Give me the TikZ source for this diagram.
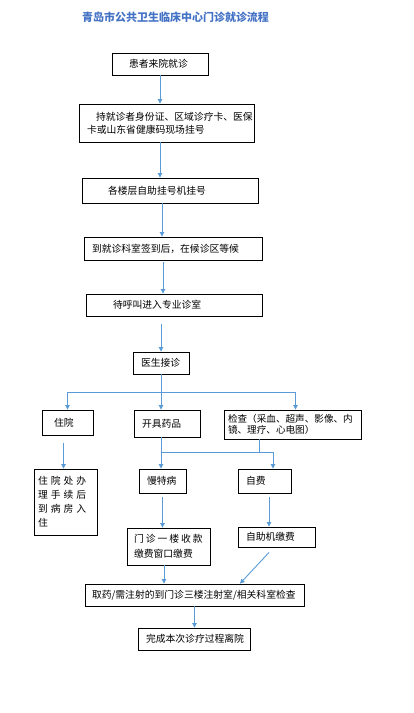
\documentclass[tikz,border=0pt]{standalone}
\usepackage{fontspec}
\newfontfamily\cjk{Noto Sans CJK SC}
\usetikzlibrary{arrows.meta,calc}
\definecolor{ttl}{RGB}{68,114,196}
\definecolor{arrc}{RGB}{91,155,213}
\begin{document}
\begin{tikzpicture}[x=1pt,y=-1pt,
  box/.style={draw=black,line width=0.9pt,inner xsep=8pt,inner ysep=0pt,align=left,
    font=\cjk\fontsize{9.8}{13}\selectfont,anchor=center},
  link/.style={draw=arrc,line width=0.9pt},
  arrow/.style={link,-{Triangle[width=4.5pt,length=4.5pt]}}]
\path[use as bounding box] (0,0) rectangle (413,713);

\node[font=\cjk\bfseries\fontsize{11}{13}\selectfont,text=ttl] (title) at (175.5,17) {青岛市公共卫生临床中心门诊就诊流程};

\node[box,minimum width=96pt,text width=80pt,minimum height=22pt] (b1) at (160,64) {\hspace*{9pt}患者来院就诊};
\node[box,minimum width=175pt,text width=159pt,minimum height=38pt] (b2) at (166.5,123) {\hspace*{9pt}持就诊者身份证、区域诊疗卡、医保\\卡或山东省健康码现场挂号};
\node[box,minimum width=176pt,text width=160pt,minimum height=25pt] (b3) at (170,190.5) {\hspace*{18pt}各楼层自助挂号机挂号};
\node[box,minimum width=178pt,text width=162pt,minimum height=23pt] (b4) at (173,248.5) {到就诊科室签到后，在候诊区等候};
\node[box,minimum width=176pt,text width=160pt,minimum height=22pt] (b5) at (174,305) {\hspace*{19pt}待呼叫进入专业诊室};
\node[box,minimum width=56pt,text width=40pt,minimum height=22pt] (b6) at (161,363) {医生接诊};
\node[box,minimum width=51pt,text width=35pt,minimum height=25pt] (b7) at (67.5,422.5) {\hspace*{4pt}住院};
\node[box,minimum width=66pt,text width=50pt,minimum height=27pt] (b8) at (167,423.5) {开具药品};
\node[box,inner xsep=4pt,minimum width=137pt,text width=129pt,minimum height=29pt,
  font=\cjk\fontsize{9.6}{11}\selectfont] (b9) at (292.5,424.5) {检查（采血、超声、影像、内\\镜、理疗、心电图）};
\node[box,inner xsep=4pt,minimum width=63pt,text width=55pt,minimum height=66pt,
  font=\cjk\fontsize{9.8}{14}\selectfont] (b10) at (65.5,502) {住\hspace{3pt}院\hspace{3pt}处\hspace{3pt}办\\理\hspace{3pt}手\hspace{3pt}续\hspace{3pt}后\\到\hspace{3pt}病\hspace{3pt}房\hspace{3pt}入\\住};
\node[box,minimum width=47pt,text width=31pt,minimum height=24pt] (b11) at (162.5,481) {慢特病};
\node[box,minimum width=53pt,text width=37pt,minimum height=24pt] (b12) at (264.5,481) {自费};
\node[box,inner xsep=4pt,minimum width=83pt,text width=75pt,minimum height=37pt,
  font=\cjk\fontsize{9.8}{15}\selectfont] (b13) at (168.5,546.5) {\hspace*{3pt}门\hspace{2pt}诊\hspace{2pt}一\hspace{2pt}楼\hspace{2pt}收\hspace{2pt}款\\\hspace*{3pt}缴费窗口缴费};
\node[box,minimum width=77pt,text width=61pt,minimum height=20pt] (b14) at (276.5,537) {自助机缴费};
\node[box,inner xsep=7pt,minimum width=219pt,text width=205pt,minimum height=22pt] (b15) at (194.5,595) {取药/需注射的到门诊三楼注射室/相关科室检查};
\node[box,minimum width=112pt,text width=96pt,minimum height=22pt] (b16) at (194,639) {完成本次诊疗过程离院};

% connectors
\draw[arrow] (b1.south) -- (b1.south |- b2.north);
\draw[arrow] (b1.south |- b2.south) -- (b1.south |- b3.north);
\draw[arrow] ([xshift=-8pt]b3.south) -- ([xshift=-8pt]b3.south |- b4.north);
\draw[arrow,shorten <=2pt] ([xshift=-10pt]b4.south) -- ([xshift=-10pt]b4.south |- b5.north);
\draw[arrow,shorten <=8pt] (b6.north |- b5.south) -- (b6.north);

\coordinate (j1) at ($(b6.south)+(0,18)$);
\coordinate (jr) at ($(b9.north |- j1)+(3,0)$);
\draw[link] (b6.south) -- (j1);
\draw[link] (b7.north |- j1) -- (jr);
\draw[arrow] (b7.north |- j1) -- (b7.north);
\draw[arrow] (j1) -- (j1 |- b8.north);
\draw[arrow] (jr) -- (jr |- b9.north);

\draw[arrow,shorten <=8pt] ([xshift=-4pt]b7.south) -- ([xshift=-4pt]b7.south |- b10.north);
\draw[arrow] (j1 |- b8.south) -- (j1 |- b11.north);

\coordinate (j2) at (259,452);
\coordinate (j3) at (273,452);
\draw[link] (j2 |- b9.south) -- (j2);
\draw[link] (j1 |- j2) -- (j3);
\draw[arrow] (j3) -- (j3 |- b12.north);

\draw[arrow,shorten <=4pt] (b11.south) -- (b11.south |- b13.north);
\draw[arrow,shorten <=4pt] ([xshift=4.5pt]b12.south) -- ([xshift=4.5pt]b12.south |- b14.north);
\draw[arrow] ([xshift=-4.5pt]b13.south) -- ([xshift=-4.5pt]b13.south |- b15.north);
\draw[arrow] ([xshift=-7.5pt,yshift=-5pt]b14.south) -- ([xshift=45.5pt]b15.north);
\draw[arrow] (b15.south) -- (b15.south |- b16.north);
\end{tikzpicture}
\end{document}
